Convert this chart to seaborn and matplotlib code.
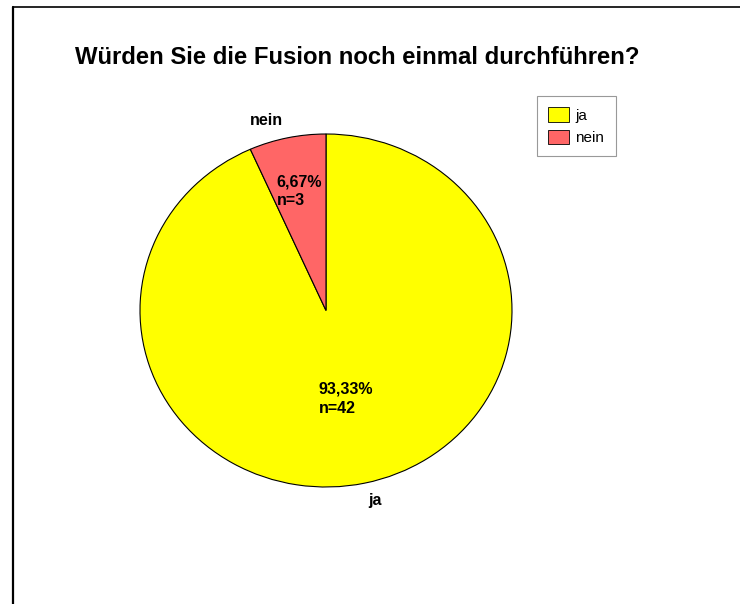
import numpy as np
import matplotlib
matplotlib.use("Agg")
import matplotlib.pyplot as plt
from matplotlib.lines import Line2D
import seaborn as sns

# Daten
categories = ["ja", "nein"]
counts = [42, 3]
slice_colors = ["#FFFF00", "#FF6666"]
title = "Würden Sie die Fusion noch einmal durchführen?"

sns.set_theme(style="white")
plt.rcParams['font.family'] = ['Liberation Sans', 'DejaVu Sans']
plt.rcParams['text.color'] = 'black'

W, H = 740, 604
fig = plt.figure(figsize=(W / 100, H / 100), dpi=100)
fig.patch.set_facecolor("white")

# Pie-Bereich (leicht elliptisch wie im Original)
ax = fig.add_axes([140 / W, 1 - 487 / H, 372 / W, 353 / H])

total = sum(counts)

def fmt_pct(p):
    n = int(round(p * total / 100))
    return f"{p:.2f}%".replace(".", ",") + f"\nn={n}"

wedges, texts, autotexts = ax.pie(
    counts, labels=categories, colors=slice_colors,
    startangle=90, counterclock=False, labeldistance=1.1,
    autopct=fmt_pct, pctdistance=0.6,
    wedgeprops=dict(edgecolor="black", linewidth=0.8),
    textprops=dict(fontsize=11.5, fontweight="bold", color="black"),
)
ax.set_aspect("auto")
ax.set_xlim(-1, 1)
ax.set_ylim(-1, 1)

# Prozenttexte entlang der Segmentmitte verschieben
pct_dist = [0.51, 0.69]
for w, t, d in zip(wedges, autotexts, pct_dist):
    ang = np.deg2rad((w.theta1 + w.theta2) / 2)
    t.set_position((d * np.cos(ang), d * np.sin(ang)))
    t.set_multialignment("left")
    t.set_linespacing(1.35)

fig.text(75 / W, 1 - 57 / H, title, fontsize=17.2, fontweight="bold",
         color="black", ha="left", va="center")

leg = fig.legend(wedges, categories, loc="upper left",
                 bbox_to_anchor=(537 / W, 1 - 96 / H), borderaxespad=0,
                 fancybox=False, framealpha=1, edgecolor="#999999",
                 fontsize=11, handlelength=1.35, handleheight=1.05,
                 handletextpad=0.4, labelspacing=0.45, borderpad=0.75,
                 labelcolor="black")
leg.get_frame().set_linewidth(0.8)
for h in leg.legend_handles:
    h.set_edgecolor("black")
    h.set_linewidth(0.6)

# Rahmen oben und links
fig.add_artist(Line2D([12.5 / W, 12.5 / W], [0, 1 - 7 / H], color="black",
                      linewidth=1.6, transform=fig.transFigure))
fig.add_artist(Line2D([12.5 / W, 1], [1 - 7 / H, 1 - 7 / H], color="black",
                      linewidth=1.2, transform=fig.transFigure))

fig.savefig("out.png", dpi=100)
plt.close(fig)
